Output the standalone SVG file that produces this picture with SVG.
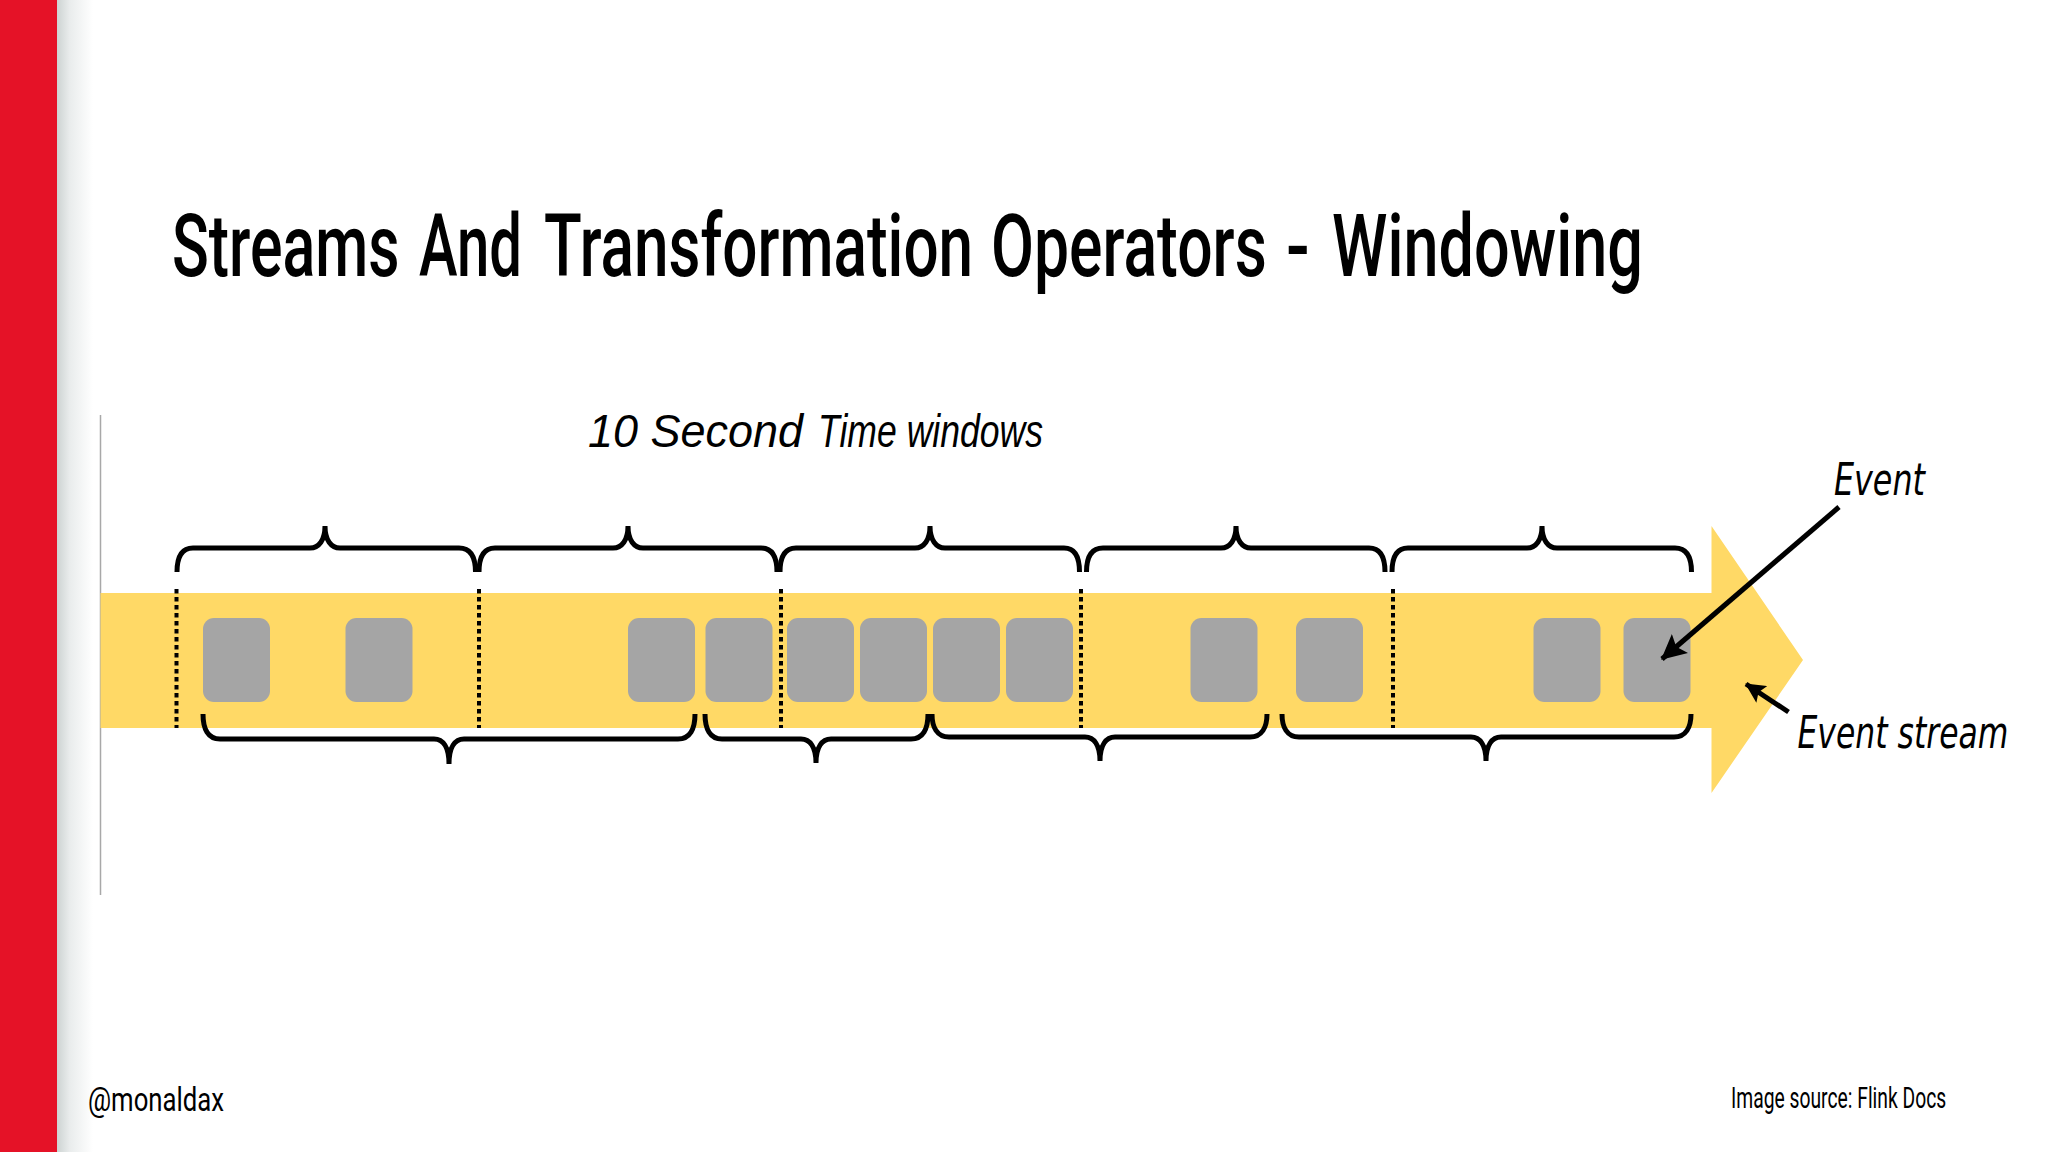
<svg xmlns="http://www.w3.org/2000/svg" width="2048" height="1152" viewBox="0 0 2048 1152">
<style>
.band{fill:#FFD966}
.ev{fill:#A5A5A5}
.dash{stroke:#000;stroke-width:4;stroke-dasharray:4.500 3.500;fill:none}
.brace{stroke:#000;stroke-width:5;fill:none}
.cond{font-family:Roboto,"Liberation Sans",sans-serif;fill:#000}
.title{font-size:87px;font-weight:500}
.light{font-weight:400}
.ital{font-family:"DejaVu Sans",sans-serif;font-style:italic;fill:#000;font-size:45px}
.head{font-family:"Liberation Sans",sans-serif;font-style:italic;fill:#000;font-size:46px}
.arr{stroke:#000;stroke-width:5;fill:none}
</style>
<defs>
<linearGradient id="sh" x1="0" x2="1" y1="0" y2="0"><stop offset="0" stop-color="#cdd3d2"/><stop offset="0.35" stop-color="#e9ecec"/><stop offset="1" stop-color="#ffffff"/></linearGradient>
<marker id="ah" viewBox="0 0 10 10" refX="9.500" refY="5" markerWidth="5" markerHeight="5" markerUnits="strokeWidth" orient="auto"><path d="M0 0L10 5L0 10L2 5z" fill="#000"/></marker>
<marker id="ah2" viewBox="0 0 10 10" refX="9.500" refY="5" markerWidth="4" markerHeight="4" markerUnits="strokeWidth" orient="auto"><path d="M0 0L10 5L0 10L2 5z" fill="#000"/></marker>
</defs>
<rect width="2048" height="1152" fill="#fff"/>
<rect x="57" y="0" width="36" height="1152" fill="url(#sh)"/>
<rect x="0" y="0" width="57" height="1152" fill="#E51227"/>
<g id="title">
<text class="cond title" transform="translate(172,276) scale(.72,1)" textLength="316" lengthAdjust="spacingAndGlyphs">Streams</text>
<text class="cond title" transform="translate(419,276) scale(.72,1)" textLength="143" lengthAdjust="spacingAndGlyphs">And</text>
<text class="cond title" transform="translate(544,276) scale(.72,1)" textLength="596" lengthAdjust="spacingAndGlyphs">Transformation</text>
<text class="cond title" transform="translate(991,276) scale(.72,1)" textLength="383" lengthAdjust="spacingAndGlyphs">Operators</text>
<text class="cond title" transform="translate(1286,276) scale(.72,1)" textLength="33" lengthAdjust="spacingAndGlyphs">-</text>
<text class="cond title" transform="translate(1332,276) scale(.72,1)" textLength="432" lengthAdjust="spacingAndGlyphs">Windowing</text>
</g>
<line x1="100.500" y1="415" x2="100.500" y2="895" stroke="#a8a8a8" stroke-width="1.500"/>
<g id="stream"><path class="band" d="M100.500 593H1711.500V526L1803 660L1711.500 793V728H100.500z"/></g>
<g id="events">
<rect id="e1" class="ev" x="203" y="618" width="67" height="84" rx="11"/>
<rect id="e2" class="ev" x="345.500" y="618" width="67" height="84" rx="11"/>
<rect id="e3" class="ev" x="628" y="618" width="67" height="84" rx="11"/>
<rect id="e4" class="ev" x="705.500" y="618" width="67" height="84" rx="11"/>
<rect id="e5" class="ev" x="787" y="618" width="67" height="84" rx="11"/>
<rect id="e6" class="ev" x="860" y="618" width="67" height="84" rx="11"/>
<rect id="e7" class="ev" x="933" y="618" width="67" height="84" rx="11"/>
<rect id="e8" class="ev" x="1006" y="618" width="67" height="84" rx="11"/>
<rect id="e9" class="ev" x="1190.500" y="618" width="67" height="84" rx="11"/>
<rect id="e10" class="ev" x="1296" y="618" width="67" height="84" rx="11"/>
<rect id="e11" class="ev" x="1533.500" y="618" width="67" height="84" rx="11"/>
<rect id="e12" class="ev" x="1623.500" y="618" width="67" height="84" rx="11"/>
</g>
<g id="connectors">
<line class="dash" x1="176.500" y1="589" x2="176.500" y2="728"/>
<line class="dash" x1="479" y1="589" x2="479" y2="728"/>
<line class="dash" x1="781" y1="589" x2="781" y2="728"/>
<line class="dash" x1="1081" y1="589" x2="1081" y2="728"/>
<line class="dash" x1="1393" y1="589" x2="1393" y2="728"/>
<path class="brace" d="M177 572C177 558 181 548 193 548H310C319 548 325 540 325 526C325 540 331 548 340 548H459C471 548 475.500 558 475.500 572"/>
<path class="brace" d="M479 572C479 558 483 548 495 548H613C622 548 628 540 628 526C628 540 634 548 643 548H761C773 548 777 558 777 572"/>
<path class="brace" d="M780 572C780 558 784 548 796 548H915C924 548 930 540 930 526C930 540 936 548 945 548H1064C1076 548 1079.500 558 1079.500 572"/>
<path class="brace" d="M1086.500 572C1086.500 558 1091 548 1103 548H1221C1230 548 1236 540 1236 526C1236 540 1242 548 1251 548H1369C1381 548 1385 558 1385 572"/>
<path class="brace" d="M1392 572C1392 558 1396 548 1408 548H1527C1536 548 1542 540 1542 526C1542 540 1548 548 1557 548H1675C1687 548 1691.500 558 1691.500 572"/>
<path class="brace" d="M203 714C203 729 208 739 220 739H434C443 739 449 747 449 764C449 747 455 739 464 739H678C690 739 695 729 695 714"/>
<path class="brace" d="M705 714C705 729 710 739 722 739H801C810 739 816 747 816 763C816 747 822 739 831 739H911C923 739 928 729 928 714"/>
<path class="brace" d="M932 714C932 727 937 737 949 737H1085C1094 737 1100 745 1100 761C1100 745 1106 737 1115 737H1250C1262 737 1267 727 1267 714"/>
<path class="brace" d="M1282 714C1282 727 1287 737 1299 737H1471C1480 737 1486 745 1486 761C1486 745 1492 737 1501 737H1674C1686 737 1691 727 1691 714"/>
<line class="arr" x1="1839" y1="507" x2="1662" y2="659" marker-end="url(#ah)"/>
<line class="arr" x1="1788.500" y1="712" x2="1746" y2="684" marker-end="url(#ah2)"/>
</g>
<text class="head" x="588" y="447" textLength="215" lengthAdjust="spacingAndGlyphs">10 Second</text>
<text class="head" transform="translate(818,447) scale(.84,1)" textLength="268" lengthAdjust="spacingAndGlyphs">Time windows</text>
<text class="ital" transform="translate(1834,495) scale(.74,1)" textLength="123" lengthAdjust="spacingAndGlyphs">Event</text>
<text class="ital" transform="translate(1797.500,748) scale(.74,1)" textLength="285" lengthAdjust="spacingAndGlyphs">Event stream</text>
<text class="cond light" transform="translate(88,1111) scale(.8,1)" font-size="33" textLength="170" lengthAdjust="spacingAndGlyphs">@monaldax</text>
<text class="cond light" transform="translate(1731,1108) scale(.8,1)" font-size="29" textLength="269" lengthAdjust="spacingAndGlyphs">Image source: Flink Docs</text>
</svg>
